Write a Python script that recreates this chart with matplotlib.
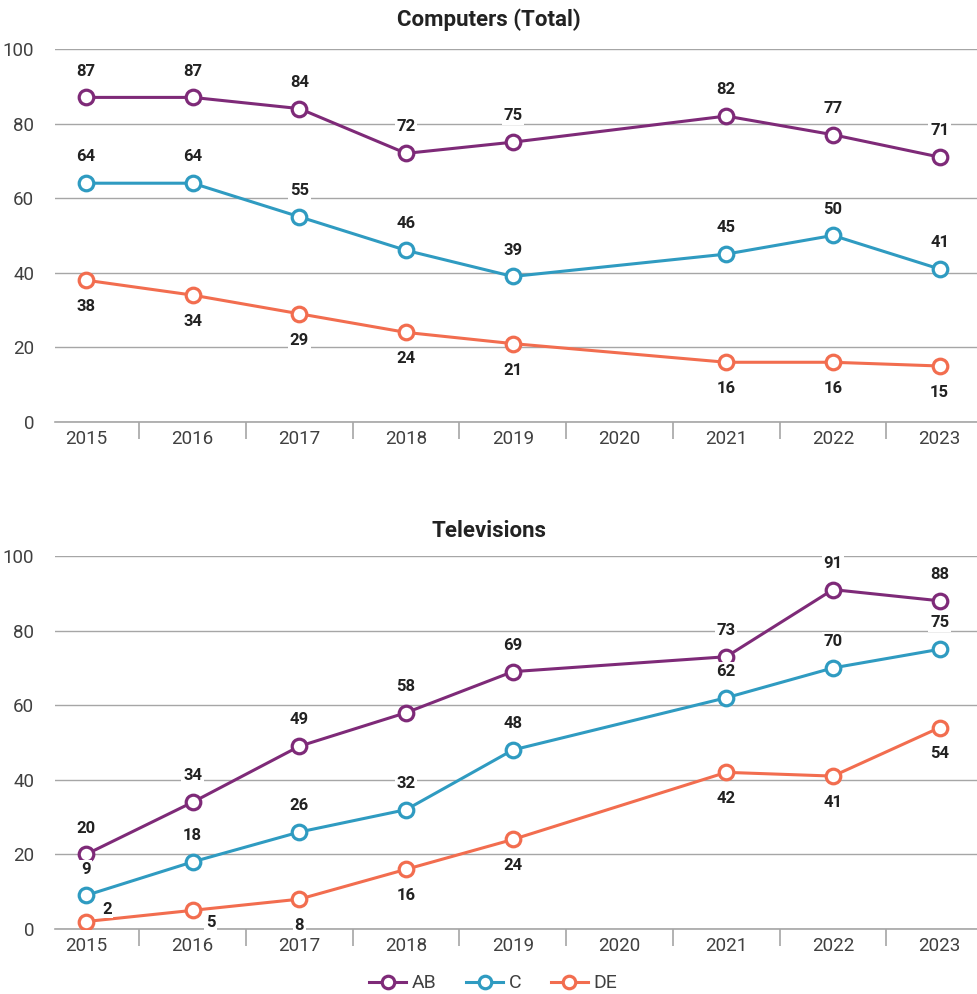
import numpy as np
import matplotlib
matplotlib.use("Agg")
import matplotlib.pyplot as plt
from matplotlib.lines import Line2D

plt.rcParams['font.family'] = ['Roboto', 'DejaVu Sans']

years = ['2015', '2016', '2017', '2018', '2019', '2020', '2021', '2022', '2023']
groups = ['AB', 'C', 'DE']
colors = {'AB': '#7e2a78', 'C': '#2f9bc1', 'DE': '#f26d4f'}

# 2020 has no data (None)
comp_ab = [87, 87, 84, 72, 75, None, 82, 77, 71]
comp_c = [64, 64, 55, 46, 39, None, 45, 50, 41]
comp_de = [38, 34, 29, 24, 21, None, 16, 16, 15]

tv_ab = [20, 34, 49, 58, 69, None, 73, 91, 88]
tv_c = [9, 18, 26, 32, 48, None, 62, 70, 75]
tv_de = [2, 5, 8, 16, 24, None, 42, 41, 54]

# label offsets in points (dx, dy) per series
comp_off = {'AB': [(0, 19)] * 9, 'C': [(0, 19)] * 9, 'DE': [(0, -19)] * 9}
tv_off = {'AB': [(0, 19)] * 9, 'C': [(0, 19)] * 9,
          'DE': [(15, 9), (13, -9)] + [(0, -19)] * 7}

fig = plt.figure(figsize=(9.77, 9.94), dpi=100)
ax1 = fig.add_axes([0.0563, 0.5755, 0.9437, 0.3753])
ax2 = fig.add_axes([0.0563, 0.0654, 0.9437, 0.3752])


def draw(ax, series, offsets):
    for name, vals in zip(groups, series):
        xs = [i for i, v in enumerate(vals) if v is not None]
        ys = [v for v in vals if v is not None]
        ax.plot(xs, ys, color=colors[name], lw=2.2, marker='o', ms=10.5,
                mfc='white', mec=colors[name], mew=2.3, zorder=3)
        for x, y in zip(xs, ys):
            dx, dy = offsets[name][x]
            ax.annotate(str(y), (x, y), xytext=(dx, dy), textcoords='offset points',
                        ha='center', va='center', fontsize=12, fontweight='bold',
                        color='#222222', zorder=4,
                        bbox=dict(boxstyle='square,pad=0.1', fc='white', ec='none'))
    ax.set_ylim(0, 100)
    ax.set_xlim(-0.29, 8.35)
    ax.set_yticks(range(0, 101, 20))
    ax.set_xticks(range(len(years)))
    ax.set_xticklabels(years)
    ax.set_xticks(np.arange(0.5, 8, 1), minor=True)
    ax.grid(axis='y', color='#a6a6a6', lw=1, zorder=0)
    for s in ['top', 'right', 'left']:
        ax.spines[s].set_visible(False)
    ax.spines['bottom'].set_color('#a6a6a6')
    ax.spines['bottom'].set_linewidth(1.2)
    ax.tick_params(axis='y', length=0, pad=15, labelsize=13.5, labelcolor='#404040')
    ax.tick_params(axis='x', which='major', length=0, pad=6, labelsize=13.5, labelcolor='#404040')
    ax.tick_params(axis='x', which='minor', length=12, width=1.2, color='#a6a6a6')


draw(ax1, [comp_ab, comp_c, comp_de], comp_off)
draw(ax2, [tv_ab, tv_c, tv_de], tv_off)

fig.text(0.5, 1 - 20 / 994, 'Computers (Total)', ha='center', va='center',
         fontsize=16, fontweight='bold', color='#222222')
fig.text(0.5, 1 - 531 / 994, 'Televisions', ha='center', va='center',
         fontsize=16, fontweight='bold', color='#222222')

handles = [Line2D([], [], color=colors[g], lw=2.2, marker='o', ms=9, mfc='white',
                  mec=colors[g], mew=2.3) for g in groups]
fig.legend(handles, groups, loc='lower center', bbox_to_anchor=(0.505, -0.016), ncol=3,
           frameon=False, fontsize=14, handlelength=1.9, columnspacing=1.5,
           handletextpad=0.3)
for t in fig.legends[0].get_texts():
    t.set_color('#404040')

fig.savefig('out.png', dpi=100)
